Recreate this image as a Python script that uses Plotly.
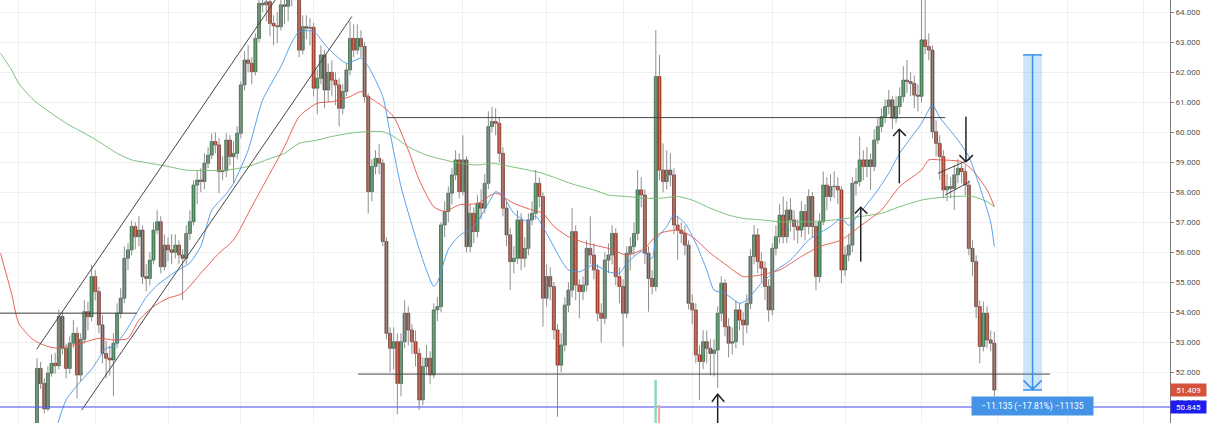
import plotly.graph_objects as go

# ---------------- candle data (daily, index 0..263) ----------------
open_ = [
50.00, 52.13, 51.63, 50.78, 51.97, 52.30, 52.22, 53.86, 52.80, 52.13,
52.97, 53.30, 51.91, 53.10, 54.02, 53.85, 55.19, 54.69, 53.58, 52.63,
52.47, 52.41, 52.97, 53.97, 54.47, 55.80, 56.08, 56.86, 56.52, 56.74,
55.19, 55.13, 55.74, 56.74, 57.02, 55.52, 56.24, 56.08, 56.00, 56.24,
55.91, 55.80, 56.63, 57.02, 58.24, 58.41, 58.36, 58.97, 59.24, 59.69,
59.58, 58.69, 58.72, 59.74, 59.19, 59.30, 59.97, 61.58, 62.41, 62.30,
62.02, 63.13, 64.30, 64.25, 64.35, 63.63, 63.55, 63.52, 64.25, 64.20,
64.50, 64.80, 64.90, 62.74, 63.52, 63.47, 63.50, 61.47, 61.80, 62.58,
61.41, 62.00, 61.74, 61.58, 60.80, 61.36, 62.08, 63.13, 62.74, 63.13,
62.86, 61.19, 58.02, 58.86, 59.13, 58.97, 56.36, 53.30, 52.80, 53.02,
51.63, 53.02, 53.97, 53.41, 53.02, 52.63, 51.08, 52.19, 52.47, 51.91,
54.08, 54.19, 56.91, 57.36, 57.97, 58.58, 59.08, 58.02, 59.08, 56.19,
57.30, 56.69, 57.63, 57.47, 58.30, 60.19, 60.36, 60.30, 59.30, 57.47,
56.58, 55.69, 55.80, 57.08, 55.80, 56.13, 57.08, 57.30, 58.30, 57.86,
54.47, 55.19, 54.86, 53.41, 52.24, 52.91, 54.24, 54.74, 56.69, 54.91,
54.69, 54.91, 56.13, 55.91, 55.41, 53.97, 53.80, 55.74, 55.91, 56.63,
55.19, 54.86, 53.97, 55.97, 56.19, 56.63, 58.08, 57.91, 55.97, 55.13,
54.86, 61.86, 58.74, 58.36, 58.74, 58.58, 56.91, 56.74, 56.63, 56.24,
54.30, 54.08, 52.58, 52.36, 53.02, 52.80, 52.63, 52.74, 53.97, 54.97,
53.52, 52.97, 53.02, 54.08, 53.74, 53.58, 54.30, 55.86, 56.58, 55.69,
55.47, 54.86, 54.08, 56.13, 56.52, 57.24, 56.52, 57.41, 57.08, 56.86,
56.74, 57.36, 56.86, 57.86, 56.86, 55.19, 57.02, 58.24, 57.86, 58.19,
58.20, 58.08, 55.41, 55.91, 56.24, 58.30, 58.36, 59.08, 58.86, 59.08,
58.86, 59.74, 60.19, 60.52, 60.86, 61.08, 60.47, 60.86, 61.19, 61.74,
61.69, 61.63, 61.24, 61.20, 63.08, 62.86, 62.74, 60.02, 59.63, 59.19,
58.08, 58.19, 58.13, 58.58, 58.80, 58.69, 58.24, 56.13, 55.69, 54.19,
52.86, 53.97, 53.08, 52.97,
]

high = [
52.47, 52.35, 51.80, 52.20, 52.60, 52.65, 54.10, 54.05, 52.95, 53.20,
53.75, 53.50, 53.30, 54.40, 54.35, 55.58, 55.40, 54.85, 53.90, 53.05,
52.90, 53.30, 54.30, 54.80, 56.20, 56.30, 57.05, 57.00, 57.20, 56.90,
55.60, 56.00, 57.00, 57.40, 57.20, 56.60, 56.50, 56.60, 56.60, 56.40,
56.10, 56.90, 57.40, 58.40, 58.70, 58.80, 59.30, 59.50, 59.97, 60.00,
59.80, 59.20, 59.97, 59.90, 59.70, 60.20, 61.70, 62.70, 62.90, 62.50,
63.30, 64.60, 64.60, 64.70, 64.50, 63.90, 64.00, 64.50, 64.60, 64.90,
65.10, 65.20, 65.00, 63.90, 63.90, 63.80, 63.65, 62.10, 62.90, 62.75,
62.30, 62.40, 62.00, 61.80, 61.60, 62.30, 63.70, 63.60, 63.60, 63.40,
63.00, 61.30, 59.10, 59.40, 59.60, 59.10, 56.50, 53.50, 53.50, 53.30,
53.30, 54.40, 54.20, 53.60, 53.40, 52.80, 52.50, 52.90, 52.70, 54.30,
54.50, 57.00, 57.70, 58.20, 58.80, 59.40, 59.30, 59.90, 59.20, 57.60,
57.50, 57.90, 58.10, 58.60, 60.70, 60.85, 60.80, 60.50, 59.50, 57.70,
56.80, 56.20, 57.40, 57.30, 56.50, 57.30, 57.70, 58.74, 58.50, 58.00,
55.60, 55.50, 55.00, 53.60, 53.30, 54.50, 55.00, 57.47, 56.90, 55.10,
55.20, 56.40, 57.20, 56.30, 55.60, 54.30, 56.00, 56.30, 56.90, 56.80,
55.50, 55.10, 56.20, 56.50, 57.00, 58.74, 58.50, 58.10, 56.20, 55.40,
63.41, 62.58, 59.63, 59.40, 59.30, 58.80, 57.20, 57.00, 56.90, 56.40,
54.60, 54.30, 52.90, 53.40, 53.40, 53.10, 53.10, 54.20, 55.20, 55.10,
53.80, 53.50, 54.40, 54.30, 54.00, 54.60, 56.10, 56.90, 56.80, 56.00,
55.70, 55.10, 56.30, 56.90, 57.60, 57.86, 57.70, 57.80, 57.40, 57.10,
57.70, 57.60, 58.10, 58.00, 57.00, 57.30, 58.69, 58.50, 58.60, 58.70,
58.50, 58.20, 56.20, 56.60, 58.50, 58.80, 59.86, 59.40, 59.50, 59.30,
60.10, 60.50, 60.80, 61.10, 61.41, 61.20, 61.20, 61.50, 62.20, 62.41,
62.00, 61.90, 61.60, 65.00, 64.80, 63.30, 62.90, 60.40, 59.90, 59.40,
58.60, 58.50, 58.90, 59.10, 59.00, 58.90, 58.40, 56.40, 55.90, 54.40,
54.36, 54.20, 53.40, 53.36,
]

low = [
49.80, 51.45, 50.63, 50.70, 51.85, 51.95, 52.10, 52.60, 51.80, 51.95,
52.80, 51.13, 51.70, 52.95, 53.40, 53.70, 54.40, 53.30, 52.30, 51.80,
51.90, 51.20, 52.80, 53.80, 54.30, 55.40, 55.90, 56.10, 56.20, 54.95,
54.70, 54.90, 55.60, 56.60, 55.30, 55.40, 55.70, 55.60, 55.80, 55.60,
54.41, 55.60, 56.40, 56.90, 57.60, 58.00, 58.10, 58.80, 59.10, 59.30,
57.97, 58.40, 58.50, 58.90, 58.30, 59.10, 59.80, 61.40, 62.00, 61.60,
61.90, 63.00, 64.00, 63.70, 63.20, 62.90, 62.97, 63.40, 63.60, 63.70,
64.20, 64.40, 62.50, 62.60, 63.10, 62.90, 61.20, 60.60, 61.60, 60.80,
61.00, 61.20, 60.90, 60.20, 60.60, 61.20, 61.90, 62.50, 62.60, 62.50,
61.00, 57.30, 57.70, 58.60, 58.60, 56.20, 53.10, 52.00, 52.10, 50.60,
51.20, 52.80, 52.90, 52.60, 52.20, 50.75, 50.90, 51.90, 51.60, 51.80,
53.70, 54.00, 56.50, 57.00, 57.60, 58.40, 57.80, 57.90, 56.00, 56.00,
56.30, 56.50, 57.10, 57.30, 58.10, 60.00, 59.90, 59.00, 57.20, 56.20,
54.74, 55.30, 55.60, 55.40, 55.50, 55.90, 56.90, 57.10, 57.50, 53.52,
54.20, 54.40, 53.10, 50.52, 52.00, 52.70, 54.00, 54.50, 54.40, 53.80,
54.40, 54.70, 55.60, 55.10, 53.70, 53.00, 53.60, 55.30, 55.60, 54.90,
54.30, 52.86, 53.80, 55.40, 55.90, 56.40, 57.50, 55.60, 54.02, 54.60,
54.70, 58.40, 58.00, 58.10, 58.20, 56.60, 55.74, 56.30, 55.90, 54.10,
53.60, 52.30, 51.08, 52.10, 52.30, 51.90, 51.86, 51.47, 53.70, 53.20,
52.50, 52.60, 52.80, 53.40, 52.90, 53.30, 54.10, 55.60, 55.30, 55.00,
54.40, 53.69, 53.90, 55.90, 56.30, 56.30, 56.30, 56.70, 56.40, 56.30,
56.50, 56.40, 56.60, 56.50, 54.74, 55.00, 56.90, 57.40, 57.70, 57.80,
57.60, 54.97, 55.20, 55.70, 56.00, 57.90, 58.20, 58.40, 58.50, 58.08,
58.70, 59.60, 60.00, 60.30, 60.60, 60.10, 60.30, 60.60, 61.00, 61.30,
61.20, 60.80, 60.70, 61.00, 62.60, 62.40, 59.80, 59.20, 58.40, 57.80,
57.70, 57.80, 57.41, 58.30, 58.30, 57.90, 55.90, 55.20, 53.80, 52.30,
52.70, 52.80, 52.70, 51.20,
]

close = [
52.13, 51.63, 50.78, 51.97, 52.30, 52.22, 53.86, 52.80, 52.13, 52.97,
53.30, 51.91, 53.10, 54.02, 53.85, 55.19, 54.69, 53.58, 52.63, 52.47,
52.41, 52.97, 53.97, 54.47, 55.80, 56.08, 56.86, 56.52, 56.74, 55.19,
55.13, 55.74, 56.74, 57.02, 55.52, 56.24, 56.08, 56.00, 56.24, 55.91,
55.80, 56.63, 57.02, 58.24, 58.41, 58.36, 58.97, 59.24, 59.69, 59.58,
58.69, 58.72, 59.74, 59.19, 59.30, 59.97, 61.58, 62.41, 62.30, 62.02,
63.13, 64.30, 64.25, 64.35, 63.63, 63.55, 63.52, 64.25, 64.20, 64.50,
64.80, 64.90, 62.74, 63.52, 63.47, 63.50, 61.47, 61.80, 62.58, 61.41,
62.00, 61.74, 61.58, 60.80, 61.36, 62.08, 63.13, 62.74, 63.13, 62.86,
61.19, 58.02, 58.86, 59.13, 58.97, 56.36, 53.30, 52.80, 53.02, 51.63,
53.02, 53.97, 53.41, 53.02, 52.63, 51.08, 52.19, 52.47, 51.91, 54.08,
54.19, 56.91, 57.36, 57.97, 58.58, 59.08, 58.02, 59.08, 56.19, 57.30,
56.69, 57.63, 57.47, 58.30, 60.19, 60.36, 60.30, 59.30, 57.47, 56.58,
55.69, 55.80, 57.08, 55.80, 56.13, 57.08, 57.30, 58.30, 57.86, 54.47,
55.19, 54.86, 53.41, 52.24, 52.91, 54.24, 54.74, 56.69, 54.91, 54.69,
54.91, 56.13, 55.91, 55.41, 53.97, 53.80, 55.74, 55.91, 56.63, 55.19,
54.86, 53.97, 55.97, 56.19, 56.63, 58.08, 57.91, 55.97, 55.13, 54.86,
61.86, 58.74, 58.36, 58.74, 58.58, 56.91, 56.74, 56.63, 56.24, 54.30,
54.08, 52.58, 52.36, 53.02, 52.80, 52.63, 52.74, 53.97, 54.97, 53.52,
52.97, 53.02, 54.08, 53.74, 53.58, 54.30, 55.86, 56.58, 55.69, 55.47,
54.86, 54.08, 56.13, 56.52, 57.24, 56.52, 57.41, 57.08, 56.86, 56.74,
57.36, 56.86, 57.86, 56.86, 55.19, 57.02, 58.24, 57.86, 58.19, 58.20,
58.08, 55.41, 55.91, 56.24, 58.30, 58.36, 59.08, 58.86, 59.08, 58.86,
59.74, 60.19, 60.52, 60.86, 61.08, 60.47, 60.86, 61.19, 61.74, 61.69,
61.63, 61.24, 61.20, 63.08, 62.86, 62.74, 60.02, 59.63, 59.19, 58.08,
58.19, 58.13, 58.58, 58.80, 58.69, 58.24, 56.13, 55.69, 54.19, 52.86,
53.97, 53.08, 52.97, 51.409,
]

# ---------------- moving averages ----------------
ma_fast_x = [5, 8, 12, 15, 19, 21, 24, 27, 30, 33, 38, 42, 45, 48, 52, 54, 58, 62, 67, 70,
             72, 76, 80, 85, 89, 91, 95, 97, 100, 104, 107, 109, 110, 113, 116, 120, 124, 126, 128, 131,
             135, 137, 140, 144, 146, 149, 153, 157, 160, 162, 166, 169, 170, 173, 175, 178, 181, 184, 186, 189,
             193, 195, 199, 203, 207, 212, 218, 221, 223, 226, 231, 234, 237, 243, 246, 248, 253, 256, 259, 262, 263]
ma_fast_y = [50.00, 51.08, 51.70, 52.10, 52.80, 52.85, 53.30, 53.90, 54.50, 54.90, 55.35, 55.65, 56.20, 57.40, 57.95, 58.30, 59.40, 61.08, 62.19, 63.00,
             63.36, 63.36, 62.80, 62.30, 62.47, 62.20, 61.19, 59.97, 58.19, 56.50, 55.40, 54.86, 55.00, 56.10, 56.55, 56.86, 57.63, 58.02, 57.90, 57.30,
             57.02, 57.20, 56.63, 55.74, 55.41, 55.35, 55.58, 55.35, 55.30, 55.63, 56.02, 55.80, 56.40, 56.86, 57.24, 56.97, 56.30, 55.41, 54.74, 54.63,
             54.30, 54.41, 54.97, 55.40, 55.74, 56.41, 56.86, 57.13, 56.90, 57.30, 58.08, 58.63, 59.30, 60.30, 60.91, 60.50, 59.74, 59.19, 58.19, 57.00, 56.19]

ma_mid_x = [-10, -7, -5, -1, 3, 6, 12, 17, 21, 25, 28, 32, 36, 40, 45, 50, 54, 59, 63, 68,
            72, 77, 81, 86, 89, 91, 95, 98, 102, 105, 109, 112, 116, 121, 126, 131, 136, 139, 142, 146,
            151, 157, 162, 167, 169, 171, 176, 180, 185, 190, 194, 199, 204, 210, 215, 221, 226, 232, 237, 243,
            245, 248, 254, 257, 261, 263]
ma_mid_y = [55.97, 54.63, 53.63, 53.08, 52.86, 52.80, 52.97, 53.13, 53.08, 53.13, 53.74, 54.19, 54.47, 54.63, 55.30, 55.97, 56.41, 57.52, 58.41, 59.52,
            60.52, 60.97, 61.02, 61.19, 61.36, 61.19, 60.86, 60.52, 59.41, 58.41, 57.52, 57.36, 57.58, 57.63, 57.97, 57.63, 57.41, 57.30, 56.86, 56.52,
            56.30, 56.13, 55.91, 56.13, 56.41, 56.63, 56.74, 56.52, 55.97, 55.52, 55.19, 55.25, 55.41, 55.86, 56.19, 56.41, 56.86, 57.41, 58.19, 58.74,
            59.08, 59.08, 59.02, 58.74, 58.08, 57.52]

ma_slow_x = [-10, -7, -5, -1, 4, 8, 13, 17, 22, 26, 31, 36, 41, 52, 58, 63, 68, 72, 77, 81,
             86, 90, 95, 98, 102, 107, 112, 116, 121, 125, 130, 135, 139, 144, 148, 153, 157, 162, 167, 171,
             176, 180, 185, 190, 194, 199, 204, 212, 219, 226, 232, 237, 243, 246, 252, 257, 261, 263]
ma_slow_y = [62.63, 62.08, 61.63, 61.08, 60.63, 60.30, 59.97, 59.69, 59.30, 59.08, 58.97, 58.86, 58.74, 58.74, 58.86, 59.08, 59.30, 59.63, 59.74, 59.86,
             59.97, 60.02, 60.02, 59.86, 59.52, 59.24, 59.08, 58.97, 58.91, 58.97, 58.86, 58.74, 58.63, 58.41, 58.24, 58.08, 57.91, 57.86, 57.80, 57.80,
             57.86, 57.74, 57.47, 57.24, 57.13, 57.08, 57.02, 57.02, 57.08, 57.19, 57.30, 57.52, 57.74, 57.80, 57.86, 57.86, 57.69, 57.52]

# month boundaries (candle index) used for the vertical grid
month_starts = [-5, 16, 36, 56, 76, 98, 117, 140, 161, 180, 202, 222, 243, 264, 283, 304]
price_ticks = [51, 52, 53, 54, 55, 56, 57, 58, 59, 60, 61, 62, 63, 64]

last_price = 51.409
line_price = 50.845
measure_text = "−11.135 (−17.81%) −11135"

# ---------------- styling ----------------
GREEN = "#559a68"
RED = "#cf4b34"
GREEN_EDGE = "#23402c"
RED_EDGE = "#4a2018"
WICK = "#8f8f8f"
FONT = "Roboto"

n = len(close)
idx = list(range(n))

wick_x, wick_y = [], []
for i in idx:
    wick_x += [i, i, None]
    wick_y += [low[i], high[i], None]

up_x, up_b, up_h, dn_x, dn_b, dn_h = [], [], [], [], [], []
for i in idx:
    o, c = open_[i], close[i]
    if c >= o:
        up_x.append(i); up_b.append(o); up_h.append(max(c - o, 0.012))
    else:
        dn_x.append(i); dn_b.append(c); dn_h.append(o - c)

fig = go.Figure()
fig.add_trace(go.Scatter(x=wick_x, y=wick_y, mode="lines",
                         line=dict(color=WICK, width=1), hoverinfo="skip"))
fig.add_trace(go.Bar(x=up_x, y=up_h, base=up_b, width=0.84,
                     marker=dict(color=GREEN, line=dict(color=GREEN_EDGE, width=0.6))))
fig.add_trace(go.Bar(x=dn_x, y=dn_h, base=dn_b, width=0.84,
                     marker=dict(color=RED, line=dict(color=RED_EDGE, width=0.6))))

fig.add_trace(go.Scatter(x=ma_slow_x, y=ma_slow_y, mode="lines",
                         line=dict(color="rgba(110,185,110,0.9)", width=1, shape="spline", smoothing=0.6)))
fig.add_trace(go.Scatter(x=ma_mid_x, y=ma_mid_y, mode="lines",
                         line=dict(color="rgba(228,82,70,0.9)", width=1, shape="spline", smoothing=0.6)))
fig.add_trace(go.Scatter(x=ma_fast_x, y=ma_fast_y, mode="lines",
                         line=dict(color="rgba(70,150,235,0.9)", width=1, shape="spline", smoothing=0.6)))

X_MIN, X_MAX = -10.16, 311.26
Y_MIN, Y_MAX = 50.31, 64.41

shapes = []
def seg(x0, y0, x1, y1, color="#454545", width=1):
    shapes.append(dict(type="line", x0=x0, y0=y0, x1=x1, y1=y1, xref="x", yref="y",
                       line=dict(color=color, width=width), layer="above"))

def path(pts, color="#222222", width=1.5):
    d = "M " + " L ".join(f"{x},{y}" for x, y in pts)
    shapes.append(dict(type="path", path=d, xref="x", yref="y",
                       line=dict(color=color, width=width), layer="above"))

# horizontal levels
seg(X_MIN, 53.97, 27.5, 53.97)
seg(96.2, 60.49, 249.5, 60.49)
seg(88.2, 51.94, 278.3, 51.94)
# rising channel
seg(-0.08, 52.77, 69.5, 65.13)
seg(12.28, 50.74, 86.5, 63.86)
# small flag
seg(247.5, 58.63, 256.3, 59.10)
seg(249.5, 57.91, 256.3, 58.36)
# arrows
seg(187.0, Y_MIN, 187.0, 51.27, "#222222", 1.5)
path([(185.4, 51.02), (187.0, 51.27), (188.8, 51.02)])
seg(226.3, 55.69, 226.3, 57.50, "#222222", 1.5)
path([(224.7, 57.29), (226.3, 57.50), (228.1, 57.29)])
seg(236.9, 58.30, 236.9, 60.10, "#222222", 1.5)
path([(235.2, 59.88), (236.9, 60.10), (238.7, 59.88)])
seg(255.2, 60.52, 255.2, 59.02, "#222222", 1.5)
path([(253.4, 59.24), (255.2, 59.02), (257.1, 59.24)])

# price-range measurement
shapes.append(dict(type="rect", x0=270.9, x1=276.1, y0=last_price, y1=62.58, xref="x", yref="y",
                   fillcolor="rgba(33,140,240,0.22)", line=dict(width=0), layer="above"))
seg(273.5, 62.58, 273.5, last_price, "#3c8ee6", 1.5)
seg(270.9, 62.58, 276.1, 62.58, "#3c8ee6", 1.5)
seg(270.9, last_price, 276.1, last_price, "#3c8ee6", 1.5)
path([(271.0, 51.73), (273.5, 51.43), (276.0, 51.73)], "#3c8ee6", 1.5)

# horizontal blue price line
shapes.append(dict(type="line", x0=0, x1=1, xref="paper", y0=line_price, y1=line_price, yref="y",
                   line=dict(color="rgba(90,90,245,0.75)", width=1.5), layer="above"))

# small volume bars under the spike candle
shapes.append(dict(type="rect", x0=169.6, x1=170.3, y0=0, y1=0.102, xref="x", yref="paper",
                   fillcolor="#8fd6c6", line=dict(width=0), layer="above"))
shapes.append(dict(type="rect", x0=170.6, x1=171.2, y0=0, y1=0.043, xref="x", yref="paper",
                   fillcolor="#f4a9a9", line=dict(width=0), layer="above"))

annotations = [
    dict(x=1, xref="paper", y=last_price, yref="y", xanchor="left", yanchor="middle",
         text=f"{last_price:.3f}", showarrow=False, bgcolor="#d4533c", width=33, height=10, borderpad=1,
         font=dict(family=FONT, size=8, color="white")),
    dict(x=1, xref="paper", y=line_price, yref="y", xanchor="left", yanchor="middle",
         text=f"{line_price:.3f}", showarrow=False, bgcolor="#1d1df2", width=33, height=10, borderpad=1,
         font=dict(family=FONT, size=8, color="white")),
    dict(x=273.5, xref="x", y=50.88, yref="y", xanchor="center", yanchor="middle",
         text=measure_text, showarrow=False, bgcolor="#4593e6", width=119, height=16, borderpad=1,
         font=dict(family=FONT, size=8.5, color="white")),
]

fig.update_layout(
    width=1210, height=423,
    margin=dict(l=0, r=40, t=0, b=0),
    paper_bgcolor="white", plot_bgcolor="white",
    showlegend=False, barmode="overlay", bargap=0, hovermode=False,
    shapes=shapes, annotations=annotations,
    xaxis=dict(range=[X_MIN, X_MAX], tickvals=month_starts, showticklabels=False, ticks="",
               showgrid=True, gridcolor="#efefef", gridwidth=1, zeroline=False, showline=False),
    yaxis=dict(side="right", range=[Y_MIN, Y_MAX], tickvals=price_ticks,
               ticktext=[f"{v:.3f}" for v in price_ticks],
               showgrid=True, gridcolor="#efefef", gridwidth=1, zeroline=False,
               showline=True, linecolor="#7a7a7a", linewidth=1,
               ticks="outside", ticklen=3, tickcolor="#7a7a7a",
               tickfont=dict(family=FONT, size=8, color="#555555")),
)

fig.write_html("out.html",
               config={"displayModeBar": False, "staticPlot": True},
               post_script="document.body.style.margin='0';document.body.style.overflow='hidden';")
